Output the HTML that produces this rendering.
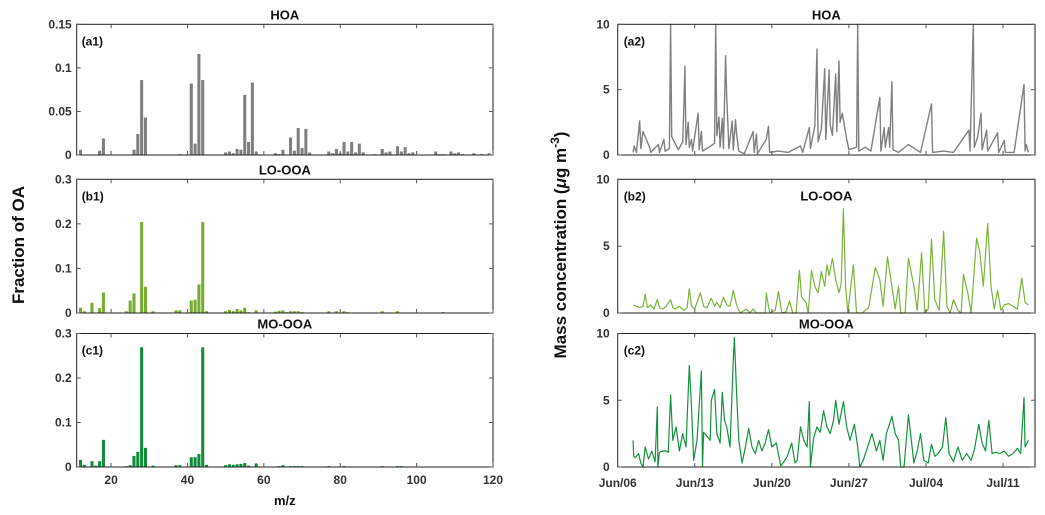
<!DOCTYPE html>
<html><head><meta charset="utf-8">
<style>
html,body{margin:0;padding:0;background:#fff;}
svg{display:block;font-family:"Liberation Sans",Arial,sans-serif;}
</style></head>
<body>
<svg id="fig" width="1045" height="515" viewBox="0 0 1045 515" xmlns="http://www.w3.org/2000/svg"></svg>
<script>
// ---------- Mass spectra (left) ----------
const hoaMz = [12,17,18,26,27,28,29,38,41,42,43,44,50,51,52,53,54,55,56,57,58,63,64,65,67,68,69,70,71,72,77,78,79,80,81,82,83,84,85,86,89,91,92,93,95,96,97,98,99,105,106,107,109,110,111,112,115,117,119];
const hoaFrac = [0.006,0.005,0.019,0.006,0.024,0.086,0.043,0.001,0.082,0.013,0.116,0.086,0.003,0.004,0.002,0.007,0.006,0.069,0.015,0.083,0.004,0.002,0.001,0.006,0.020,0.005,0.031,0.008,0.030,0.003,0.004,0.002,0.007,0.002,0.015,0.004,0.015,0.003,0.013,0.003,0.001,0.007,0.003,0.004,0.010,0.004,0.009,0.002,0.003,0.004,0.001,0.001,0.004,0.002,0.003,0.001,0.002,0.001,0.002];
const looMz = [12,13,15,17,18,24,25,26,28,29,31,37,38,41,42,43,44,45,50,51,52,53,54,55,56,58,63,64,65,66,67,68,69,70,77,79,81,82,91,95,107];
const looFrac = [0.012,0.004,0.023,0.011,0.046,0.004,0.028,0.044,0.204,0.059,0.004,0.006,0.006,0.028,0.030,0.064,0.204,0.004,0.004,0.007,0.004,0.009,0.006,0.012,0.002,0.006,0.003,0.005,0.006,0.002,0.004,0.004,0.004,0.002,0.004,0.004,0.004,0.002,0.004,0.004,0.002];
const mooMz = [12,13,15,16,17,18,24,25,26,27,28,29,31,37,38,41,42,43,44,45,50,51,52,53,54,55,56,58,64,65,67,68,69,70,77,81,91,95,96];
const mooFrac = [0.016,0.005,0.013,0.003,0.013,0.061,0.002,0.004,0.025,0.034,0.269,0.043,0.003,0.004,0.004,0.022,0.022,0.029,0.269,0.005,0.004,0.006,0.005,0.006,0.007,0.009,0.003,0.008,0.002,0.004,0.002,0.002,0.002,0.002,0.002,0.002,0.002,0.002,0.002];
const mzTicks = [20,40,60,80,100,120];
const fracTicksA = [0,0.05,0.1,0.15];
const fracTicksB = [0,0.1,0.2,0.3];

// ---------- Time series (right), days since Jun 06 ----------
const hoaT = [1.4,1.5,1.7,2.0,2.1,2.3,2.9,3.0,3.7,3.8,
 4.2,4.3,4.7,4.8,4.9,5.5,5.9,6.0,6.1,6.2,
 6.4,6.5,6.7,6.8,7.3,7.4,7.6,7.7,8.3,8.8,
 8.9,9.0,9.2,9.3,9.5,9.6,9.8,9.9,10.1,10.4,
 10.5,10.7,10.8,11.0,11.5,12.3,12.4,12.6,12.7,13.5,
 13.7,13.8,14.6,15.5,16.6,16.8,17.4,17.5,17.9,18.1,
 18.2,18.5,18.8,18.9,19.2,19.3,19.5,19.8,19.9,20.1,
 20.2,20.4,20.8,21.0,21.7,21.8,21.9,22.5,23.0,23.8,
 23.9,24.2,24.3,24.6,24.7,24.9,25.0,25.5,26.4,27.5,
 28.5,28.6,29.6,30.5,31.9,32.0,32.3,32.4,32.7,33.0,
 33.1,33.5,33.6,34.5,34.6,35.1,35.2,36.0,36.9,37.0,
 37.1,37.3];
const hoaV = [0.2,0.7,0.2,2.6,0.5,1.8,0.6,0.2,0.8,0.2,
 1.2,0.3,0.5,10,1.4,0.4,1.0,3.5,6.8,0.8,
 2.5,0.6,1.2,0.3,3.2,0.4,1.8,0.3,0.6,0.9,
 10,1.5,2.9,0.6,2.8,0.5,7.6,4.5,0.5,2.6,
 0.4,2.7,1.6,0.3,0.1,1.8,0.2,1.6,0.1,1.2,
 2.2,0.2,0.3,0.2,0.7,0.2,2.1,0.5,2.2,8.1,
 1.0,2.0,6.6,1.2,6.5,2.3,1.5,6.2,1.8,7.2,
 2.5,3.2,1.2,0.4,0.6,10,0.3,0.6,0.3,4.4,
 0.3,2.1,0.6,2.1,0.6,5.6,0.4,0.2,0.8,0.2,
 3.9,0.2,0.3,0.2,1.9,0.3,10,0.6,1.4,3.2,
 0.4,1.9,0.3,1.7,0.2,1.1,0.2,0.2,5.4,0.3,
 0.8,0.2];
const looT = [1.4,1.7,2.0,2.3,2.5,2.7,3.0,3.3,3.6,3.8,4.1,4.4,4.8,5.0,5.2,5.6,6.0,6.3,6.5,6.7,
 7.0,7.5,7.8,8.1,8.5,8.8,9.0,9.3,9.6,9.9,10.2,10.5,10.8,11.1,11.7,12.0,12.3,12.6,12.9,13.4,
 13.5,13.8,14.3,14.6,14.9,15.3,15.6,15.9,16.2,16.5,16.7,17.1,17.3,17.6,17.9,18.2,18.5,18.8,19.0,19.2,
 19.5,19.8,20.1,20.3,20.5,20.7,20.9,21.4,21.7,22.2,22.8,23.4,23.8,24.1,24.5,24.9,25.2,25.5,25.7,26.1,
 26.4,26.9,27.2,27.6,27.9,28.2,28.5,28.8,29.2,29.6,29.9,30.2,30.5,30.9,31.2,31.4,31.8,32.1,32.6,32.9,
 33.2,33.6,33.9,34.2,34.5,34.8,35.1,35.5,35.9,36.3,36.7,37.0,37.3];
const looV = [0.6,0.5,0.4,0.5,1.4,0.4,0.6,0.3,1.0,0.4,0.3,0.5,1.0,0.4,0.3,0.5,0.2,0.4,1.8,0.5,
 0.3,1.5,0.5,0.4,1.1,0.5,0.8,0.4,1.2,0.6,0.5,1.7,0.6,0.0,0.3,0.0,0.3,0.0,0.0,0.0,
 1.5,0.0,0.2,1.6,0.0,0.1,0.9,0.0,0.0,3.2,1.2,0.8,0.0,3.2,2.0,1.5,3.1,2.0,3.6,2.8,
 4.1,2.5,1.5,2.2,7.8,2.0,0.0,3.6,0.0,0.0,0.4,3.4,2.5,0.5,4.2,2.0,0.3,2.0,0.0,0.0,
 4.1,2.0,0.2,4.5,0.0,0.3,5.5,1.0,0.2,6.1,0.5,0.0,1.0,0.2,0.0,2.9,1.5,0.0,5.6,4.5,
 2.0,6.7,2.0,0.3,1.7,0.2,0.6,0.7,0.5,0.3,2.6,0.8,0.6];
const mooT = [1.4,1.45,1.6,1.9,2.1,2.3,2.5,2.8,3.1,3.4,3.6,3.65,3.8,4.1,4.4,4.6,4.8,5.0,5.3,5.6,
 5.9,6.2,6.5,6.7,6.9,7.2,7.6,7.7,7.8,8.1,8.4,8.5,8.8,9.0,9.3,9.5,9.7,9.9,10.2,10.5,
 10.6,10.8,11.0,11.3,11.6,11.9,12.2,12.5,12.8,13.1,13.4,13.7,14.0,14.4,14.8,15.1,15.4,15.8,16.1,16.3,
 16.6,16.9,17.2,17.4,17.5,17.8,18.1,18.4,18.7,19.0,19.3,19.6,19.8,20.1,20.5,20.8,21.1,21.5,21.8,22.0,
 22.3,22.7,23.1,23.5,23.8,24.1,24.4,24.6,24.9,25.2,25.5,25.7,26.0,26.4,26.6,26.9,27.2,27.5,27.8,28.2,
 28.5,28.8,29.1,29.5,29.8,30.1,30.5,30.9,31.3,31.7,32.1,32.4,32.8,33.1,33.4,33.7,34.0,34.3,34.7,35.1,
 35.5,35.9,36.3,36.6,36.9,37.0,37.3];
const mooV = [2.0,0.8,0.7,1.0,0.3,0.0,1.5,0.6,1.2,0.4,4.5,0.0,1.1,1.2,1.2,1.1,5.4,2.0,3.0,1.2,
 2.5,1.5,7.6,4.5,0.5,2.0,7.2,0.0,2.6,2.3,2.0,5.0,5.8,2.5,1.8,5.6,3.5,3.0,1.5,8.0,
 9.7,5.5,2.0,0.3,1.5,2.9,1.5,1.0,2.0,1.2,1.8,2.8,1.5,1.8,0.1,0.4,0.8,1.8,0.3,0.5,
 3.0,2.0,1.5,4.9,0.0,2.2,3.0,2.6,4.2,3.0,2.5,3.5,5.0,3.2,4.9,3.0,2.0,3.2,1.5,0.0,
 0.5,1.5,2.5,1.2,2.0,0.5,2.5,3.0,3.8,2.5,2.0,0.0,0.0,3.9,2.5,0.3,1.2,2.5,0.5,0.3,
 1.7,0.8,1.0,1.5,3.7,1.0,0.4,1.5,0.5,1.0,0.5,1.3,3.2,1.8,1.2,3.5,1.0,1.1,1.0,1.2,
 0.8,1.0,1.4,1.0,5.2,1.5,2.0];
const dateTicks = [0,7,14,21,28,35];
const dateLabels = ["Jun/06","Jun/13","Jun/20","Jun/27","Jul/04","Jul/11"];
const concTicks = [0,5,10];

const NS = "http://www.w3.org/2000/svg";
const svg = document.getElementById('fig');
function mk(tag, attrs, parent, text){
  const e = document.createElementNS(NS, tag);
  for (const k in attrs) e.setAttribute(k, attrs[k]);
  if (text !== undefined) e.textContent = text;
  (parent || svg).appendChild(e);
  return e;
}

const LX0 = 76.7, LX1 = 493, RX0 = 617.7, RX1 = 1035;
const rows = [{t:24.3,b:155},{t:179.3,b:313},{t:333.5,b:467}];
const mzScale = v => LX0 + (v - 11) * (LX1 - LX0) / 109;
const dayScale = d => RX0 + d * (RX1 - RX0) / 37.9;

function axisBox(g, x0, x1, r, name){
  const b = mk('rect', {x:x0, y:r.t, width:x1-x0, height:r.b-r.t, fill:'none', stroke:'#222', 'stroke-width':1}, g);
  
  
}

// Left panels
const leftPanels = [
  {mz:hoaMz, v:hoaFrac, max:0.15, ticks:fracTicksA, color:'#7f7f7f', title:'HOA', tag:'(a1)', key:'hoa'},
  {mz:looMz, v:looFrac, max:0.3, ticks:fracTicksB, color:'#77ab32', title:'LO-OOA', tag:'(b1)', key:'lo-ooa'},
  {mz:mooMz, v:mooFrac, max:0.3, ticks:fracTicksB, color:'#0f8b3a', title:'MO-OOA', tag:'(c1)', key:'mo-ooa'}
];
leftPanels.forEach((p, i) => {
  const r = rows[i];
  const g = mk('g', {});
  
  
  const ys = v => r.b - v / p.max * (r.b - r.t);
  const bw = (LX1 - LX0) / 109 * 0.8;
  p.mz.forEach((m, j) => {
    const y = ys(p.v[j]);
    const bar = mk('rect', {x:mzScale(m) - bw/2, y:y, width:bw, height:r.b - y, fill:p.color}, g);
    
    
  });
  axisBox(g, LX0, LX1, r, 'spectrum-axes-' + p.key);
  p.ticks.forEach(t => {
    const y = ys(t);
    mk('line', {x1:LX0, x2:LX0+4, y1:y, y2:y, stroke:'#555'}, g);
    mk('line', {x1:LX1-4, x2:LX1, y1:y, y2:y, stroke:'#555'}, g);
    const lab = mk('text', {x:LX0-5, y:y+4, 'text-anchor':'end', 'font-size':12, 'font-weight':'bold', fill:'#333'}, g, String(t));
    
    
  });
  mzTicks.forEach(t => {
    const x = mzScale(t);
    mk('line', {x1:x, x2:x, y1:r.b, y2:r.b-4, stroke:'#555'}, g);
    mk('line', {x1:x, x2:x, y1:r.t, y2:r.t+4, stroke:'#555'}, g);
    if (i === 2) {
      const lab = mk('text', {x:x, y:r.b+17, 'text-anchor':'middle', 'font-size':12, 'font-weight':'bold', fill:'#333'}, g, String(t));
      
      
    }
  });
  const tt = mk('text', {x:(LX0+LX1)/2, y:r.t-5, 'text-anchor':'middle', 'font-size':13, 'font-weight':'bold', fill:'#111'}, g, p.title);
  
  
  const tg = mk('text', {x:LX0+5, y:r.t+21, 'font-size':12, 'font-weight':'bold', fill:'#111'}, g, p.tag);
  
  
});

// Right panels
const rightPanels = [
  {t:hoaT, v:hoaV, color:'#808080', title:'HOA', tag:'(a2)', key:'hoa', inside:false, w:1.4},
  {t:looT, v:looV, color:'#7ab43a', title:'LO-OOA', tag:'(b2)', key:'lo-ooa', inside:true, w:1.2},
  {t:mooT, v:mooV, color:'#13923e', title:'MO-OOA', tag:'(c2)', key:'mo-ooa', inside:false, w:1.2}
];
rightPanels.forEach((p, i) => {
  const r = rows[i];
  const g = mk('g', {});
  
  
  const ys = v => r.b - v / 10 * (r.b - r.t);
  let d = '';
  p.t.forEach((t, j) => { d += (j ? 'L' : 'M') + dayScale(t).toFixed(1) + ',' + ys(p.v[j]).toFixed(1); });
  const line = mk('path', {d:d, fill:'none', stroke:p.color, 'stroke-width':p.w, 'stroke-linejoin':'round'}, g);
  
  
  axisBox(g, RX0, RX1, r, 'timeseries-axes-' + p.key);
  concTicks.forEach(t => {
    const y = ys(t);
    mk('line', {x1:RX0, x2:RX0+4, y1:y, y2:y, stroke:'#555'}, g);
    mk('line', {x1:RX1-4, x2:RX1, y1:y, y2:y, stroke:'#555'}, g);
    const lab = mk('text', {x:RX0-8, y:y+4, 'text-anchor':'end', 'font-size':12, 'font-weight':'bold', fill:'#333'}, g, String(t));
    
    
  });
  dateTicks.forEach((t, k) => {
    const x = dayScale(t);
    mk('line', {x1:x, x2:x, y1:r.b, y2:r.b-4, stroke:'#555'}, g);
    mk('line', {x1:x, x2:x, y1:r.t, y2:r.t+4, stroke:'#555'}, g);
    if (i === 2) {
      const lab = mk('text', {x:x, y:r.b+20, 'text-anchor':'middle', 'font-size':12, 'font-weight':'bold', fill:'#333'}, g, dateLabels[k]);
      
      
    }
  });
  const ty = p.inside ? r.t + 21 : r.t - 5;
  const tt = mk('text', {x:(RX0+RX1)/2, y:ty, 'text-anchor':'middle', 'font-size':13, 'font-weight':'bold', fill:'#111'}, g, p.title);
  
  
  const tg = mk('text', {x:RX0+6, y:r.t+21, 'font-size':12, 'font-weight':'bold', fill:'#111'}, g, p.tag);
  
  
});

// Axis titles
const yl = mk('text', {x:0, y:0, transform:'translate(24,245) rotate(-90)', 'text-anchor':'middle', 'font-size':17, 'font-weight':'bold', fill:'#111'}, svg, 'Fraction of OA');


const yr = mk('text', {x:0, y:0, transform:'translate(566,245) rotate(-90)', 'text-anchor':'middle', 'font-size':17, 'font-weight':'bold', fill:'#111'}, svg);


mk('tspan', {}, yr, 'Mass concentration (');
mk('tspan', {'font-style':'italic'}, yr, 'μ');
mk('tspan', {}, yr, 'g m');
mk('tspan', {dy:-7, 'font-size':12}, yr, '-3');
mk('tspan', {dy:7}, yr, ')');
const xl = mk('text', {x:(LX0+LX1)/2, y:505, 'text-anchor':'middle', 'font-size':13, 'font-weight':'bold', fill:'#111'}, svg, 'm/z');


</script>
</body></html>
